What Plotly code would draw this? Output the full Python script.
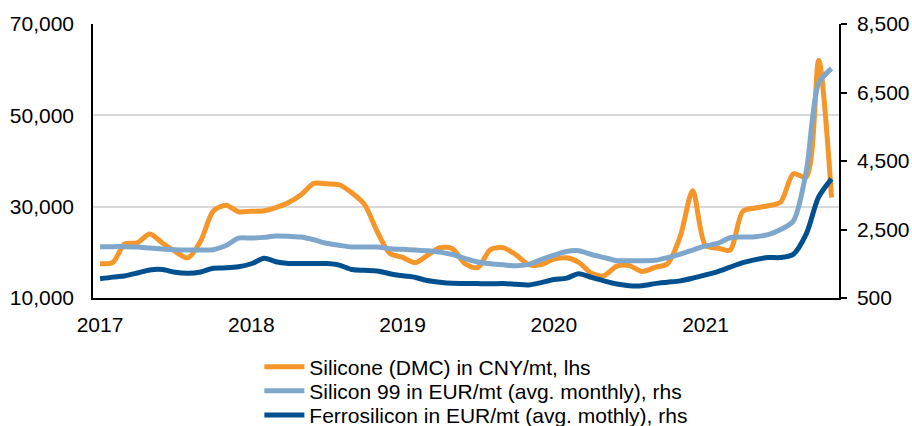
import plotly.graph_objects as go
import pandas as pd

months = pd.date_range("2017-01-01", "2021-11-01", freq="MS").strftime("%Y-%m-%d").tolist()

silicone_dmc = [
    17500, 17800, 21800, 22100, 24000, 22000, 20200, 18800, 22500, 29000, 30300, 28900,
    29000, 29100, 29800, 30900, 32600, 35100, 35000, 34800, 33000, 30500, 24500, 19800,
    18900, 17750, 19300, 21000, 20800, 17500, 16650, 20600, 21000, 19500, 17300, 17300,
    18500, 18800, 17800, 15400, 14900, 17000, 17100, 15800, 16700, 17500, 23500, 33500,
    21500, 20900, 20500, 29000, 29700, 30200, 31000, 37200, 36500, 62000, 32000,
]
silicon_99 = [
    2000, 2000, 2000, 1990, 1960, 1930, 1910, 1900, 1900, 1910, 2030, 2250,
    2250, 2270, 2310, 2300, 2280, 2200, 2100, 2040, 1990, 1990, 1990, 1940,
    1920, 1900, 1880, 1840, 1770, 1650, 1550, 1500, 1470, 1440, 1480, 1620,
    1750, 1860, 1880, 1770, 1680, 1590, 1590, 1590, 1600, 1680, 1780, 1900,
    2020, 2100, 2260, 2280, 2290, 2350, 2500, 2750, 4200, 6770, 7200,
]
ferrosilicon = [
    1060, 1110, 1145, 1230, 1320, 1330, 1250, 1220, 1260, 1370, 1380, 1410,
    1500, 1660, 1560, 1510, 1505, 1505, 1505, 1460, 1330, 1310, 1290, 1210,
    1150, 1100, 1010, 960, 930, 925, 920, 915, 920, 900, 880, 950,
    1040, 1080, 1210, 1100, 1000, 910, 860, 860, 920, 960, 1000, 1080,
    1175, 1280, 1400, 1530, 1620, 1680, 1680, 1780, 2370, 3450, 3980,
]

year_ticks = ["2017-01-01", "2018-01-01", "2019-01-01", "2020-01-01", "2021-01-01"]
year_labels = ["2017", "2018", "2019", "2020", "2021"]
names = [
    "Silicone (DMC) in CNY/mt, lhs",
    "Silicon 99 in EUR/mt (avg. monthly), rhs",
    "Ferrosilicon in EUR/mt (avg. mothly), rhs",
]

fig = go.Figure()
fig.add_trace(go.Scatter(x=months, y=silicone_dmc, name=names[0], mode="lines",
                         line=dict(color="#F4962A", width=5, shape="spline", smoothing=0.8),
                         yaxis="y", legend="legend"))
fig.add_trace(go.Scatter(x=months, y=silicon_99, name=names[1], mode="lines",
                         line=dict(color="#7FA7CB", width=5, shape="spline", smoothing=0.8),
                         yaxis="y2", legend="legend2"))
fig.add_trace(go.Scatter(x=months, y=ferrosilicon, name=names[2], mode="lines",
                         line=dict(color="#00508F", width=5, shape="spline", smoothing=0.8),
                         yaxis="y2", legend="legend3"))

font = dict(family="Liberation Sans, Arial, sans-serif", size=21, color="#000000")

def leg(yc):
    return dict(orientation="v", x=0.223, xanchor="left", y=yc, yanchor="middle",
                font=font, itemwidth=40, bgcolor="rgba(0,0,0,0)",
                borderwidth=0)

fig.update_layout(
    width=912, height=426,
    margin=dict(l=93, r=73, t=24, b=128, autoexpand=False),
    paper_bgcolor="white", plot_bgcolor="white",
    font=font,
    showlegend=True,
    legend=leg(-0.252),
    legend2=leg(-0.340),
    legend3=leg(-0.428),
    xaxis=dict(type="date", range=["2016-12-15", "2021-11-19"],
               tickvals=year_ticks, ticktext=year_labels,
               showgrid=False, showline=True, linecolor="#000000", linewidth=1.5,
               ticks="", ticklabelstandoff=7, zeroline=False, automargin=False),
    yaxis=dict(range=[10000, 70000], tickvals=[10000, 30000, 50000, 70000],
               tickformat=",", showgrid=True, gridcolor="#D9D9D9", gridwidth=1.5,
               showline=True, linecolor="#000000", linewidth=1.5, ticks="",
               ticklabelstandoff=13, zeroline=False, automargin=False),
    yaxis2=dict(range=[500, 8500], tickvals=[500, 2500, 4500, 6500, 8500],
                tickformat=",", overlaying="y", side="right", showgrid=False,
                showline=True, linecolor="#000000", linewidth=1.5,
                ticks="outside", ticklen=6, tickcolor="#000000", tickwidth=1.5,
                ticklabelstandoff=6, zeroline=False, automargin=False),
)

# remove the default 8px page margin so the 912x426 figure fills the window exactly
fig.write_html("out.html",
               config={"displayModeBar": False},
               post_script="document.body.style.margin='0';document.body.style.overflow='hidden';")
